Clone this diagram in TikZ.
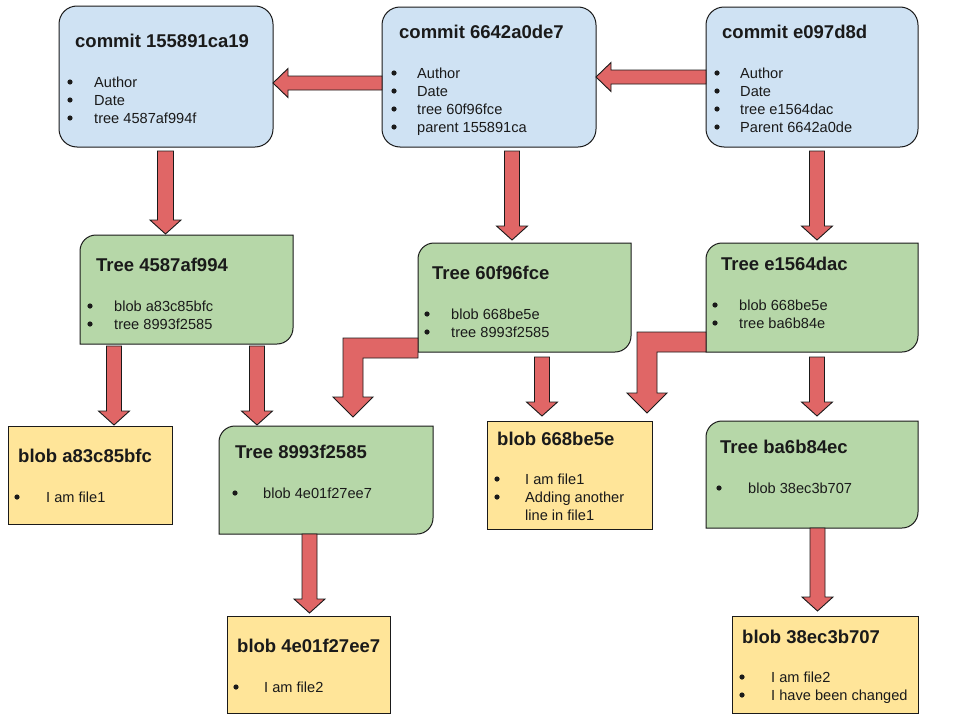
\documentclass[tikz,border=0pt]{standalone}
\usepackage{fontspec}
\setmainfont{Liberation Sans}
\usetikzlibrary{calc}

\definecolor{commitfill}{HTML}{CFE2F3}
\definecolor{treefill}{HTML}{B6D7A8}
\definecolor{blobfill}{HTML}{FFE599}
\definecolor{arrowfill}{HTML}{E06666}
\definecolor{ink}{HTML}{1A1A1A}

\tikzset{
  frame/.style={anchor=north west, inner sep=0pt, outer sep=0pt},
  commitbox/.style={frame, draw=ink, line width=1pt, fill=commitfill, rounded corners=18pt},
  treearea/.style={frame},
  treeoutline/.style={draw=ink, line width=1pt, fill=treefill},
  blobbox/.style={frame, draw=ink, line width=1pt, fill=blobfill},
  title/.style={anchor=base west, inner sep=0pt, font=\bfseries\fontsize{18.5}{22}\selectfont, text=ink},
  item/.style={anchor=base west, inner sep=0pt, font=\fontsize{14.6}{18}\selectfont, text=ink},
  blockarrow/.style={draw=ink, line width=0.9pt, fill=arrowfill, line join=miter},
}

% box of given size, top-left corner at (x,y)
\newcommand\placebox[6]{\node[#2, minimum width=#5pt, minimum height=#6pt] (#1) at (#3,#4) {};}

% tree outline: rounded top-left and bottom-right corners
\newcommand\treeshape[1]{%
  \draw[treeoutline] (#1.south west) -- ($(#1.north west)+(0,16)$)
    .. controls ($(#1.north west)+(0,7.2)$) and ($(#1.north west)+(7.2,0)$) .. ($(#1.north west)+(16,0)$)
    -- (#1.north east) -- ($(#1.south east)+(0,-16)$)
    .. controls ($(#1.south east)+(0,-7.2)$) and ($(#1.south east)+(-7.2,0)$) .. ($(#1.south east)+(-16,0)$)
    -- cycle;}

% bulleted lines: name, bullet x, text x, first baseline, entries
\newcommand\items[5]{%
  \foreach \itm [count=\i] in {#5} {
    \fill[ink] (#2,{#4+18*(\i-1)-5}) circle (2.6pt);
    \node[item] (#1-\i) at (#3,{#4+18*(\i-1)}) {\itm};
  }}

% straight block arrow: start, tip, shaft half width, head half width, head length
\newcommand\blockarrow[5]{%
  \path ($(#2)!#5!(#1)$) coordinate (ba-h);
  \draw[blockarrow] ($(#1)!#3!90:(#2)$) -- ($(ba-h)!#3!90:(#2)$) -- ($(ba-h)!#4!90:(#2)$)
    -- (#2) -- ($(ba-h)!#4!-90:(#2)$) -- ($(ba-h)!#3!-90:(#2)$) -- ($(#1)!#3!-90:(#2)$) -- cycle;}

% elbow block arrow: start (left edge of a box), elbow, tip (pointing down)
\newcommand\bentarrow[3]{%
  \draw[blockarrow] ($(#1)+(0,-10)$) -- ($(#2)+(-10,-10)$) -- ($(#3)+(-10,-20)$) -- ($(#3)+(-20,-20)$)
    -- (#3) -- ($(#3)+(20,-20)$) -- ($(#3)+(10,-20)$) -- ($(#2)+(10,10)$) -- ($(#1)+(0,10)$) -- cycle;}

\begin{document}
\begin{tikzpicture}[x=1pt, y=-1pt]
\useasboundingbox (0,0) rectangle (960,720);

% ---- commits
\placebox{C1}{commitbox}{59}{6}{214}{141}
\placebox{C2}{commitbox}{382}{7}{214}{140}
\placebox{C3}{commitbox}{706}{7}{212}{140}

% ---- trees
\placebox{T1}{treearea}{80}{235}{213}{109}
\placebox{T2}{treearea}{418}{243}{213}{109}
\placebox{T3}{treearea}{706}{243}{212}{109}
\placebox{T4}{treearea}{219}{426}{214}{108}
\placebox{T5}{treearea}{706}{421}{212}{107}
\foreach \tr in {T1,T2,T3,T4,T5} {\treeshape{\tr}}

% ---- blobs
\placebox{B1}{blobbox}{8}{426}{164}{98}
\placebox{B3}{blobbox}{487}{421}{165}{108}
\placebox{B4}{blobbox}{227}{616}{163}{97}
\placebox{B5}{blobbox}{732}{616}{186}{97}

% ---- texts
\node[title] (C1-title) at (75,47) {commit 155891ca19};
\items{C1}{70}{94}{87}{Author,Date,tree 4587af994f}
\node[title] (C2-title) at (399,38) {commit 6642a0de7};
\items{C2}{394}{417}{78}{Author,Date,tree 60f96fce,parent 155891ca}
\node[title] (C3-title) at (722,38) {commit e097d8d};
\items{C3}{717}{740}{78}{Author,Date,tree e1564dac,Parent 6642a0de}

\node[title] (T1-title) at (96,271) {Tree 4587af994};
\items{T1}{90}{114}{311}{blob a83c85bfc,tree 8993f2585}
\node[title] (T2-title) at (432,279) {Tree 60f96fce};
\items{T2}{427}{451}{319}{blob 668be5e,tree 8993f2585}
\node[title] (T3-title) at (721,270) {Tree e1564dac};
\items{T3}{715}{739}{310}{blob 668be5e,tree ba6b84e}

\node[title] (B1-title) at (18,462) {blob a83c85bfc};
\items{B1}{17}{46}{502}{I am file1}
\node[title] (T4-title) at (235,458) {Tree 8993f2585};
\items{T4}{235}{263}{498}{blob 4e01f27ee7}
\node[title] (B3-title) at (497,445) {blob 668be5e};
\items{B3}{497}{525}{484}{I am file1,Adding another}
\node[item] (B3-wrap) at (525,520) {line in file1};
\node[title] (T5-title) at (720,453) {Tree ba6b84ec};
\items{T5}{719}{748}{493}{blob 38ec3b707}

\node[title] (B4-title) at (237,652) {blob 4e01f27ee7};
\items{B4}{236}{264}{692}{I am file2}
\node[title] (B5-title) at (742,643) {blob 38ec3b707};
\items{B5}{742}{771}{682}{I am file2,I have been changed}

% ---- parent links
\coordinate (p1s) at ($(C2.north west)+(0,76)$);
\coordinate (p1t) at (p1s -| C1.east);
\blockarrow{p1s}{p1t}{7pt}{14.5pt}{15pt}
\coordinate (p2s) at ($(C3.north west)+(0,70)$);
\coordinate (p2t) at (p2s -| C2.east);
\blockarrow{p2s}{p2t}{7pt}{14.5pt}{15pt}

% ---- commit -> tree
\coordinate (a1s) at ($(C1.south)+(-0.5,4)$);
\coordinate (a1t) at ($(a1s |- T1.north)+(0,-1)$);
\blockarrow{a1s}{a1t}{8pt}{15.5pt}{14pt}
\coordinate (a2s) at ($(C2.south)+(23,4)$);
\coordinate (a2t) at ($(a2s |- T2.north)+(0,-3)$);
\blockarrow{a2s}{a2t}{7.5pt}{15.5pt}{14pt}
\coordinate (a3s) at ($(C3.south)+(5,4)$);
\coordinate (a3t) at ($(a3s |- T3.north)+(0,-3)$);
\blockarrow{a3s}{a3t}{7.5pt}{15.5pt}{14pt}

% ---- tree -> children
\coordinate (b1s) at ($(T1.south)+(-72.5,2)$);
\coordinate (b1t) at ($(b1s |- B1.north)+(0,-1)$);
\blockarrow{b1s}{b1t}{7.5pt}{15.5pt}{14pt}
\coordinate (b2s) at ($(T1.south)+(70.5,2)$);
\coordinate (b2t) at ($(b2s |- T4.north)+(0,-1)$);
\blockarrow{b2s}{b2t}{7.5pt}{15.5pt}{14pt}
\coordinate (b3s) at ($(T2.south)+(17.5,5)$);
\coordinate (b3t) at ($(b3s |- B3.north)+(0,-5)$);
\blockarrow{b3s}{b3t}{7.5pt}{15.5pt}{14pt}
\coordinate (b4s) at ($(T3.south)+(5,5)$);
\coordinate (b4t) at ($(b4s |- T5.north)+(0,-5)$);
\blockarrow{b4s}{b4t}{7.5pt}{15.5pt}{14pt}
\coordinate (b5s) at ($(T4.south)+(-16.5,0)$);
\coordinate (b5t) at ($(b5s |- B4.north)+(0,-3)$);
\blockarrow{b5s}{b5t}{7.5pt}{15.5pt}{14pt}
\coordinate (b6s) at ($(T5.south)+(5.5,0)$);
\coordinate (b6t) at ($(b6s |- B5.north)+(0,-5)$);
\blockarrow{b6s}{b6t}{7.5pt}{15.5pt}{14pt}

% ---- shared children (elbow arrows)
\coordinate (e1s) at ($(T2.south west)+(0,-4)$);
\coordinate (e1t) at ($(T4.north)+(27,-9)$);
\coordinate (e1k) at (e1s -| e1t);
\bentarrow{e1s}{e1k}{e1t}
\coordinate (e2s) at ($(T3.south west)+(0,-10)$);
\coordinate (e2t) at ($(B3.north east)+(-5,-8)$);
\coordinate (e2k) at (e2s -| e2t);
\bentarrow{e2s}{e2k}{e2t}

\end{tikzpicture}
\end{document}
